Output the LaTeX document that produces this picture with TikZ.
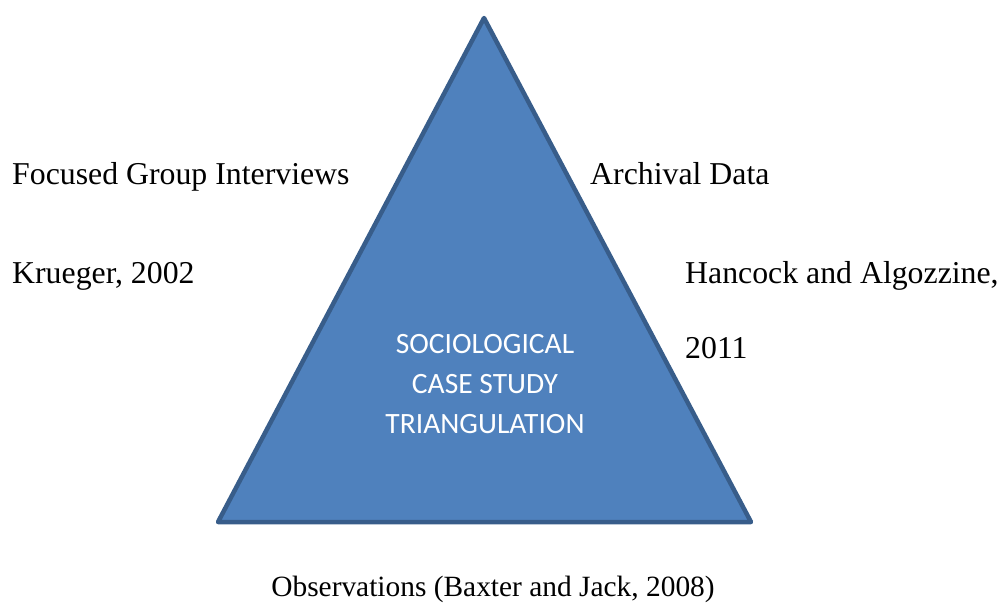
\documentclass[tikz,border=0pt]{standalone}
\usepackage{fontspec}
\setmainfont{Liberation Serif}
\newfontfamily\labelsans{Carlito}
\usepackage{tikz}
\usetikzlibrary{
	arrows.meta,
	positioning,
	calc
}
\usepackage{xcolor}
\definecolor{triblue}{HTML}{4F81BD}
\definecolor{triedge}{HTML}{385D8A}

\begin{document}
\begin{tikzpicture}[x=1pt,y=-1pt,
	source/.style={anchor=base west,inner sep=0pt,font=\fontsize{31.8}{36}\selectfont},
	inner/.style={align=center,text=white,inner sep=0pt,font=\labelsans\fontsize{29.5}{40}\selectfont}]
		
		\useasboundingbox (0,0) rectangle (1003,605);
		
		% triangle
		\coordinate (top) at (484,18);
		\coordinate (left) at (218,522);
		\coordinate (right) at (751,522);
		\draw[triedge,fill=triblue,line width=4.5pt,line join=round]
		(top) -- (left) -- (right) -- cycle;
		
		\node[inner] (centre) at (485,384) {SOCIOLOGICAL\\CASE STUDY\\TRIANGULATION};
		
		% sources
		\node[source] (groups) at (12,184) {Focused Group Interviews};
		\node[source] (krueger) at (12,283) {Krueger, 2002};
		\node[source] (archive) at (590,184) {Archival Data};
		\node[source] (hancock) at (685,283) {Hancock and Algozzine,};
		\node[source] (year) at (685,358) {2011};
		\node[source,anchor=base,font=\fontsize{29.4}{34}\selectfont] (observe) at (493,596) {Observations (Baxter and Jack, 2008)};
		
	\end{tikzpicture}
\end{document}
